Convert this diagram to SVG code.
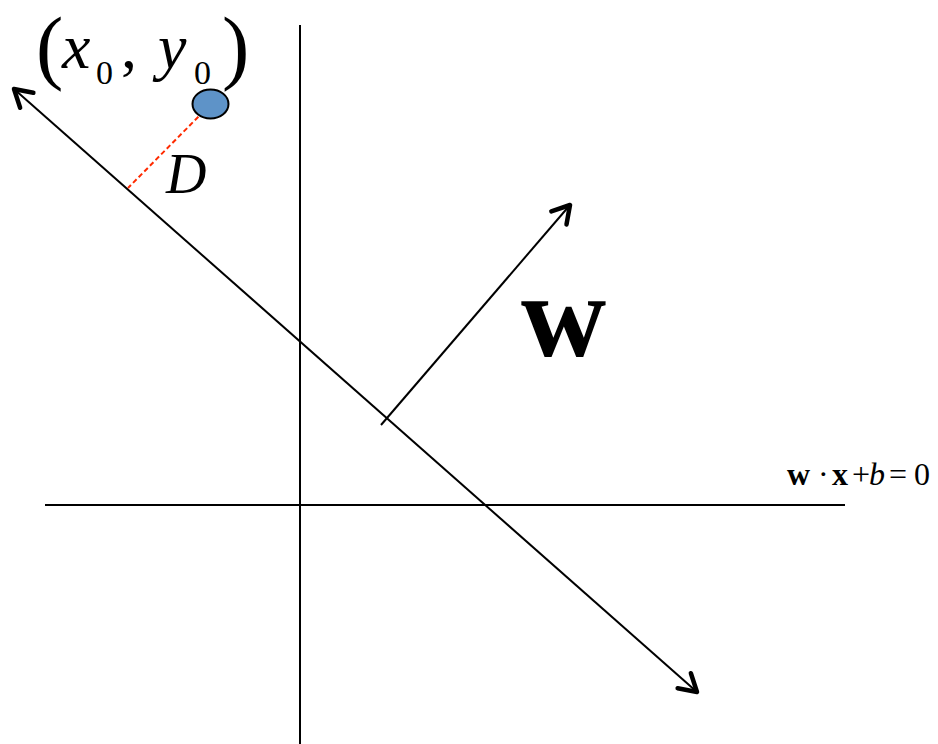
<svg xmlns="http://www.w3.org/2000/svg" width="938" height="744" viewBox="0 0 938 744">
<style>
.ln{stroke:#000;stroke-width:2;fill:none}
.tm{font-family:"Liberation Serif","Times New Roman",serif;fill:#000}
.it{font-style:italic}
</style>
<defs>
<marker id="ah" markerUnits="userSpaceOnUse" markerWidth="40" markerHeight="40" refX="0" refY="0" viewBox="-25 -20 30 40" orient="auto-start-reverse" overflow="visible">
<path d="M-17,-10 L0,0 L-17,10" fill="none" stroke="#000" stroke-width="4.5" stroke-linecap="round" stroke-linejoin="round"/>
</marker>
</defs>
<rect width="938" height="744" fill="#fff"/>
<g id="connectors">
<line class="ln" x1="300" y1="25" x2="300" y2="744"/>
<line class="ln" x1="45" y1="505" x2="845" y2="505"/>
<line class="ln" x1="14" y1="89" x2="697" y2="692" marker-start="url(#ah)" marker-end="url(#ah)"/>
<line class="ln" x1="381" y1="425" x2="570" y2="205" marker-end="url(#ah)"/>
<line x1="204" y1="111" x2="128" y2="188" stroke="#ff2a00" stroke-width="2" stroke-dasharray="5,3"/>
</g>
<g id="point">
<ellipse cx="210.5" cy="104" rx="18" ry="14.5" fill="#5e93c8" stroke="#000" stroke-width="2"/>
<text class="tm" x="36" y="74" font-size="82">(</text>
<text class="tm it" x="62" y="68" font-size="64">x</text>
<text class="tm" x="96" y="84" font-size="34">0</text>
<text class="tm" x="121" y="68" font-size="64">,</text>
<text class="tm it" x="158" y="68" font-size="64">y</text>
<text class="tm" x="194" y="84" font-size="34">0</text>
<text class="tm" x="222" y="74" font-size="82">)</text>
</g>
<g id="D">
<text class="tm it" x="166" y="193" font-size="56">D</text>
</g>
<g id="w">
<text class="tm" x="521" y="356" font-size="118" font-weight="bold">w</text>
</g>
<g id="eq">
<text class="tm" x="787" y="485" font-size="32" font-weight="bold">w</text>
<text class="tm" x="818" y="485" font-size="32">·</text>
<text class="tm" x="832" y="485" font-size="32" font-weight="bold">x</text>
<text class="tm" x="852" y="485" font-size="32">+</text>
<text class="tm it" x="869" y="485" font-size="32">b</text>
<text class="tm" x="889" y="485" font-size="32">=</text>
<text class="tm" x="914" y="485" font-size="32">0</text>
</g>
</svg>
